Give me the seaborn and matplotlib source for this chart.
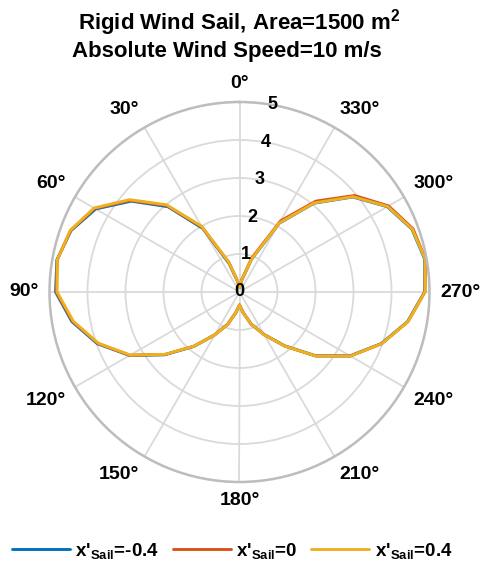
import numpy as np
import pandas as pd
import matplotlib
matplotlib.use("Agg")
import matplotlib.pyplot as plt
import seaborn as sns

# ---------------- data ----------------
theta_deg = list(range(0, 361, 10))
r_neg04 = [0.12, 0.28, 0.80, 1.93, 2.93, 3.72, 4.37, 4.72, 4.88, 4.84, 4.48, 3.98, 3.34, 2.57,
           1.87, 1.30, 0.90, 0.55, 0.34, 0.55, 0.90, 1.29, 1.85, 2.61, 3.36, 3.97, 4.49, 4.87,
           4.95, 4.83, 4.49, 3.89, 3.05, 2.09, 0.91, 0.30, 0.12]
r_0 = [0.12, 0.29, 0.83, 1.97, 2.97, 3.75, 4.40, 4.73, 4.87, 4.82, 4.46, 3.96, 3.33, 2.56,
       1.86, 1.30, 0.90, 0.55, 0.34, 0.55, 0.90, 1.30, 1.86, 2.62, 3.37, 3.98, 4.50, 4.88,
       4.97, 4.86, 4.53, 3.95, 3.12, 2.16, 0.96, 0.32, 0.12]
r_pos04 = [0.12, 0.30, 0.85, 2.00, 3.00, 3.78, 4.42, 4.74, 4.87, 4.80, 4.44, 3.95, 3.32, 2.55,
           1.86, 1.30, 0.90, 0.55, 0.34, 0.55, 0.90, 1.30, 1.86, 2.62, 3.37, 3.98, 4.50, 4.88,
           4.96, 4.84, 4.50, 3.90, 3.06, 2.10, 0.92, 0.30, 0.12]
series_labels = ["x'$_{\\mathbf{Sail}}$=-0.4", "x'$_{\\mathbf{Sail}}$=0", "x'$_{\\mathbf{Sail}}$=0.4"]
series_colors = ["#0072BD", "#D95319", "#EDB120"]
theta_ticks = list(range(0, 360, 30))
theta_tick_labels = [f"{t}°" for t in theta_ticks]
r_ticks = [0, 1, 2, 3, 4, 5]
r_tick_labels = [str(v) for v in r_ticks]
title_line1 = "Rigid Wind Sail, Area=1500 m$^{\\mathbf{2}}$"
title_line2 = "Absolute Wind Speed=10 m/s"

# ---------------- style ----------------
sns.set_theme(style="white")
plt.rcParams["font.family"] = ["Liberation Sans", "DejaVu Sans"]
plt.rcParams["mathtext.fontset"] = "custom"
plt.rcParams["mathtext.rm"] = "Liberation Sans"
plt.rcParams["mathtext.bf"] = "Liberation Sans:bold"
plt.rcParams["mathtext.it"] = "Liberation Sans:italic"
for k in ["text.color", "axes.labelcolor", "xtick.color", "ytick.color"]:
    plt.rcParams[k] = "black"

df = pd.concat([
    pd.DataFrame({"theta": np.radians(theta_deg), "r": vals, "series": lab})
    for vals, lab in zip([r_neg04, r_0, r_pos04], series_labels)
], ignore_index=True)

fig = plt.figure(figsize=(4.8, 5.68), dpi=100)
fig.patch.set_facecolor("white")
ax = fig.add_axes([49.5 / 480, (568 - 482) / 568, 380 / 480, 380 / 568], projection="polar")
ax.set_theta_zero_location("N")
ax.set_theta_direction(1)

sns.lineplot(data=df, x="theta", y="r", hue="series", hue_order=series_labels,
             palette=series_colors, sort=False, estimator=None, lw=2.1,
             ax=ax, legend=False)

ax.set_ylim(0, 5)
ax.set_xticks(np.radians(theta_ticks))
ax.set_xticklabels([])
ax.set_yticks(r_ticks[1:])
ax.set_yticklabels([])
ax.set_xlabel("")
ax.set_ylabel("")
ax.grid(True, color="#DADADA", lw=1.3)
ax.spines["polar"].set_color("#BDBDBD")
ax.spines["polar"].set_linewidth(1.8)
ax.set_facecolor("white")

# theta labels (edge-aligned outside the circle)
gap = 7.5
for t, lab in zip(theta_ticks, theta_tick_labels):
    phi = np.radians(90 + t)
    c, s = np.cos(phi), np.sin(phi)
    ha = "left" if c > 0.1 else ("right" if c < -0.1 else "center")
    va = "bottom" if s > 0.1 else ("top" if s < -0.1 else "center")
    ax.annotate(lab, xy=(np.radians(t), 5), xytext=(gap * c, gap * s),
                textcoords="offset points", ha=ha, va=va, fontsize=14,
                fontweight="bold", color="black", annotation_clip=False)

# radial labels along 350°
for v, lab in zip(r_ticks, r_tick_labels):
    ax.text(np.radians(350), v, lab, ha="center", va="center", fontsize=13,
            fontweight="bold", color="black", zorder=10)

fig.text(239 / 480, 1 - 30 / 568, title_line1, ha="center", va="baseline",
         fontsize=16, fontweight="bold", color="black")
fig.text(227 / 480, 1 - 57 / 568, title_line2, ha="center", va="baseline",
         fontsize=16, fontweight="bold", color="black")

fig.legend(handles=ax.lines[:3], labels=series_labels, loc="center",
           bbox_to_anchor=(232 / 480, 1 - 551 / 568), ncol=3, frameon=False,
           prop={"weight": "bold", "size": 13.5}, handlelength=3.1,
           handletextpad=0.3, columnspacing=0.7, borderaxespad=0,
           labelcolor="black")

fig.savefig("out.png", dpi=100, facecolor="white")
